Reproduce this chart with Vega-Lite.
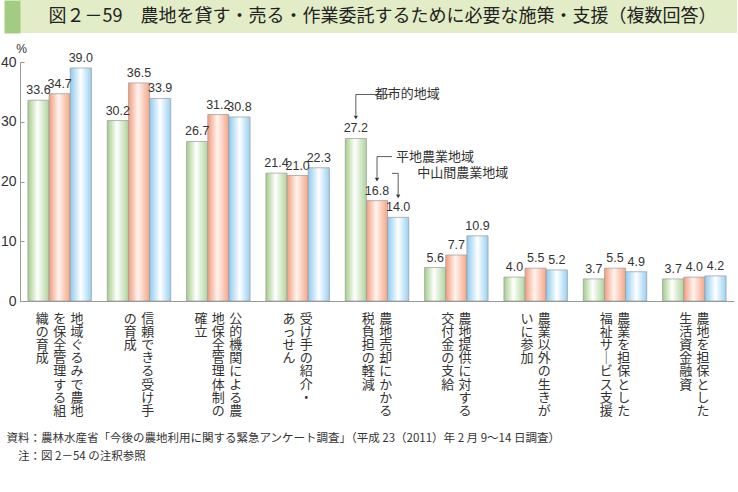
{
  "$schema": "https://vega.github.io/schema/vega-lite/v6.json",
  "padding": 0,
  "background": "white",
  "config": {"view": {"stroke": null}, "font": "Noto Sans CJK JP", "concat": {"spacing": 0}},
  "datasets": {
    "bars": [
      {"item": "地域ぐるみで農地を保全管理する組織の育成", "region": "都市的地域", "value": 33.6},
      {"item": "地域ぐるみで農地を保全管理する組織の育成", "region": "平地農業地域", "value": 34.7},
      {"item": "地域ぐるみで農地を保全管理する組織の育成", "region": "中山間農業地域", "value": 39.0},
      {"item": "信頼できる受け手の育成", "region": "都市的地域", "value": 30.2},
      {"item": "信頼できる受け手の育成", "region": "平地農業地域", "value": 36.5},
      {"item": "信頼できる受け手の育成", "region": "中山間農業地域", "value": 33.9},
      {"item": "公的機関による農地保全管理体制の確立", "region": "都市的地域", "value": 26.7},
      {"item": "公的機関による農地保全管理体制の確立", "region": "平地農業地域", "value": 31.2},
      {"item": "公的機関による農地保全管理体制の確立", "region": "中山間農業地域", "value": 30.8},
      {"item": "受け手の紹介・あっせん", "region": "都市的地域", "value": 21.4},
      {"item": "受け手の紹介・あっせん", "region": "平地農業地域", "value": 21.0},
      {"item": "受け手の紹介・あっせん", "region": "中山間農業地域", "value": 22.3},
      {"item": "農地売却にかかる税負担の軽減", "region": "都市的地域", "value": 27.2},
      {"item": "農地売却にかかる税負担の軽減", "region": "平地農業地域", "value": 16.8},
      {"item": "農地売却にかかる税負担の軽減", "region": "中山間農業地域", "value": 14.0},
      {"item": "農地提供に対する交付金の支給", "region": "都市的地域", "value": 5.6},
      {"item": "農地提供に対する交付金の支給", "region": "平地農業地域", "value": 7.7},
      {"item": "農地提供に対する交付金の支給", "region": "中山間農業地域", "value": 10.9},
      {"item": "農業以外の生きがいに参加", "region": "都市的地域", "value": 4.0},
      {"item": "農業以外の生きがいに参加", "region": "平地農業地域", "value": 5.5},
      {"item": "農業以外の生きがいに参加", "region": "中山間農業地域", "value": 5.2},
      {"item": "農業を担保とした福祉サービス支援", "region": "都市的地域", "value": 3.7},
      {"item": "農業を担保とした福祉サービス支援", "region": "平地農業地域", "value": 5.5},
      {"item": "農業を担保とした福祉サービス支援", "region": "中山間農業地域", "value": 4.9},
      {"item": "農地を担保とした生活資金融資", "region": "都市的地域", "value": 3.7},
      {"item": "農地を担保とした生活資金融資", "region": "平地農業地域", "value": 4.0},
      {"item": "農地を担保とした生活資金融資", "region": "中山間農業地域", "value": 4.2}
    ],
    "labels": [
      {"item": "地域ぐるみで農地を保全管理する組織の育成", "vlabel": "織\u2004を\u2004地\nの\u2004保\u2004域\n育\u2004全\u2004ぐ\n成\u2004管\u2004る\n\u200b\u3000\u2004理\u2004み\n\u200b\u3000\u2004す\u2004で\n\u200b\u3000\u2004る\u2004農\n\u200b\u3000\u2004組\u2004地"},
      {"item": "信頼できる受け手の育成", "vlabel": "の\u2004信\n育\u2004頼\n成\u2004で\n\u200b\u3000\u2004き\n\u200b\u3000\u2004る\n\u200b\u3000\u2004受\n\u200b\u3000\u2004け\n\u200b\u3000\u2004手"},
      {"item": "公的機関による農地保全管理体制の確立", "vlabel": "確\u2004地\u2004公\n立\u2004保\u2004的\n\u200b\u3000\u2004全\u2004機\n\u200b\u3000\u2004管\u2004関\n\u200b\u3000\u2004理\u2004に\n\u200b\u3000\u2004体\u2004よ\n\u200b\u3000\u2004制\u2004る\n\u200b\u3000\u2004の\u2004農"},
      {"item": "受け手の紹介・あっせん", "vlabel": "あ\u2004受\nっ\u2004け\nせ\u2004手\nん\u2004の\n\u200b\u3000\u2004紹\n\u200b\u3000\u2004介\n\u200b\u3000\u2004・"},
      {"item": "農地売却にかかる税負担の軽減", "vlabel": "税\u2004農\n負\u2004地\n担\u2004売\nの\u2004却\n軽\u2004に\n減\u2004か\n\u200b\u3000\u2004か\n\u200b\u3000\u2004る"},
      {"item": "農地提供に対する交付金の支給", "vlabel": "交\u2004農\n付\u2004地\n金\u2004提\nの\u2004供\n支\u2004に\n給\u2004対\n\u200b\u3000\u2004す\n\u200b\u3000\u2004る"},
      {"item": "農業以外の生きがいに参加", "vlabel": "い\u2004農\nに\u2004業\n参\u2004以\n加\u2004外\n\u200b\u3000\u2004の\n\u200b\u3000\u2004生\n\u200b\u3000\u2004き\n\u200b\u3000\u2004が"},
      {"item": "農業を担保とした福祉サービス支援", "vlabel": "福\u2004農\n祉\u2004業\nサ\u2004を\n｜\u2004担\nビ\u2004保\nス\u2004と\n支\u2004し\n援\u2004た"},
      {"item": "農地を担保とした生活資金融資", "vlabel": "生\u2004農\n活\u2004地\n資\u2004を\n金\u2004担\n融\u2004保\n資\u2004と\n\u200b\u3000\u2004し\n\u200b\u3000\u2004た"}
    ]
  },
  "columns": 1,
  "align": "none",
  "spacing": 9,
  "concat": [
    {
      "width": 717, "height": 33,
      "data": {"values": [{}]},
      "view": {"stroke": null, "fill": "#e2ecc6"},
      "mark": {"type": "text", "font": "Noto Sans CJK JP", "fontSize": 18, "color": "#222", "dx": 4, "baseline": "middle"},
      "encoding": {
        "text": {"value": "図２－59　農地を貸す・売る・作業委託するために必要な施策・支援（複数回答）"},
        "y": {
          "datum": 0.5, "type": "quantitative", "scale": {"domain": [0, 1]},
          "axis": {"labels": false, "ticks": false, "title": null, "grid": false,
            "domainColor": "#a3cc82", "domainWidth": 16, "offset": 8}
        }
      }
    },
    {
      "width": 714,
      "height": 239,
      "data": {"name": "bars"},
      "title": {
        "text": ["資料：農林水産省「今後の農地利用に関する緊急アンケート調査」（平成 23（2011）年 2 月 9～14 日調査）", "\u200b　注：図 2－54 の注釈参照"],
        "orient": "bottom", "anchor": "start", "frame": "bounds", "dx": 6, "offset": 15,
        "font": "Noto Sans CJK JP", "fontSize": 11.5, "fontWeight": "normal", "color": "#333", "lineHeight": 18
      },
      "layer": [
        {
          "transform": [{"filter": "datum.region === '都市的地域'"}],
          "mark": {"type": "bar", "stroke": "#999", "strokeWidth": 0.7,
            "fill": {"gradient": "linear", "x1": 0, "x2": 1, "y1": 0, "y2": 0, "stops": [{"offset": 0, "color": "#a3cd89"}, {"offset": 0.45, "color": "#ffffff"}, {"offset": 1, "color": "#add49a"}]}},
          "encoding": {
            "x": {
              "field": "item", "type": "nominal",
              "scale": {
                "domain": ["地域ぐるみで農地を保全管理する組織の育成", "信頼できる受け手の育成", "公的機関による農地保全管理体制の確立", "受け手の紹介・あっせん", "農地売却にかかる税負担の軽減", "農地提供に対する交付金の支給", "農業以外の生きがいに参加", "農業を担保とした福祉サービス支援", "農地を担保とした生活資金融資"],
                "paddingInner": 0.2, "paddingOuter": 0.1
              },
              "axis": {"labels": false, "ticks": false, "domainColor": "#999", "title": null}
            },
            "xOffset": {"field": "region", "scale": {"domain": ["都市的地域", "平地農業地域", "中山間農業地域"], "paddingInner": 0, "paddingOuter": 0}},
            "y": {
              "field": "value", "type": "quantitative",
              "scale": {"domain": [0, 40]},
              "axis": {
                "values": [0, 10, 20, 30, 40], "grid": false,
                "domainColor": "#999", "tickColor": "#999", "tickSize": -4,
                "labelFont": "Liberation Sans", "labelFontSize": 14, "labelColor": "#333", "labelPadding": 8,
                "title": "%", "titleAngle": 0, "titleX": 1, "titleY": -14, "titleAlign": "center", "titleBaseline": "middle",
                "titleFont": "Liberation Sans", "titleFontSize": 12, "titleFontWeight": "normal", "titleColor": "#333"
              }
            }
          }
        },
        {
          "transform": [{"filter": "datum.region === '平地農業地域'"}],
          "mark": {"type": "bar", "stroke": "#999", "strokeWidth": 0.7,
            "fill": {"gradient": "linear", "x1": 0, "x2": 1, "y1": 0, "y2": 0, "stops": [{"offset": 0, "color": "#f29c7c"}, {"offset": 0.45, "color": "#fff4ef"}, {"offset": 1, "color": "#f4a586"}]}},
          "encoding": {
            "x": {"field": "item", "type": "nominal"},
            "xOffset": {"field": "region"},
            "y": {"field": "value", "type": "quantitative"}
          }
        },
        {
          "transform": [{"filter": "datum.region === '中山間農業地域'"}],
          "mark": {"type": "bar", "stroke": "#999", "strokeWidth": 0.7,
            "fill": {"gradient": "linear", "x1": 0, "x2": 1, "y1": 0, "y2": 0, "stops": [{"offset": 0, "color": "#8ccbf1"}, {"offset": 0.5, "color": "#ffffff"}, {"offset": 1, "color": "#97d1f3"}]}},
          "encoding": {
            "x": {"field": "item", "type": "nominal"},
            "xOffset": {"field": "region"},
            "y": {"field": "value", "type": "quantitative"}
          }
        },
        {
          "mark": {"type": "text", "baseline": "bottom", "dy": -3, "font": "Liberation Sans", "fontSize": 12.5, "color": "#333"},
          "encoding": {
            "x": {"field": "item", "type": "nominal"},
            "xOffset": {"field": "region"},
            "y": {"field": "value", "type": "quantitative"},
            "text": {"field": "value", "type": "quantitative", "format": ".1f"}
          }
        },
        {
          "transform": [{"filter": "datum.item === '農地売却にかかる税負担の軽減'"}],
          "mark": {"type": "rule", "color": "#333", "strokeWidth": 0.8, "yOffset": -44, "y2Offset": -23},
          "encoding": {
            "x": {"field": "item", "type": "nominal"},
            "xOffset": {"field": "region"},
            "y": {"field": "value", "type": "quantitative"},
            "y2": {"field": "value"}
          }
        },
        {
          "transform": [{"filter": "datum.item === '農地売却にかかる税負担の軽減'"}],
          "mark": {"type": "rule", "color": "#333", "strokeWidth": 0.8, "yOffset": -44, "x2Offset": 15},
          "encoding": {
            "x": {"field": "item", "type": "nominal"},
            "x2": {"field": "item"},
            "xOffset": {"field": "region"},
            "y": {"field": "value", "type": "quantitative"}
          }
        },
        {
          "transform": [{"filter": "datum.item === '農地売却にかかる税負担の軽減'"}],
          "mark": {"type": "point", "shape": "triangle-down", "filled": true, "size": 18, "color": "#333", "opacity": 1, "yOffset": -21},
          "encoding": {
            "x": {"field": "item", "type": "nominal"},
            "xOffset": {"field": "region"},
            "y": {"field": "value", "type": "quantitative"}
          }
        },
        {
          "transform": [{"filter": "datum.item === '農地売却にかかる税負担の軽減'"}],
          "mark": {"type": "text", "align": "left", "baseline": "middle", "dx": 19, "dy": -44, "font": "Noto Sans CJK JP", "fontSize": 13, "color": "#333"},
          "encoding": {
            "x": {"field": "item", "type": "nominal"},
            "xOffset": {"field": "region"},
            "y": {"field": "value", "type": "quantitative"},
            "text": {"field": "region"}
          }
        },
        {
          "data": {"name": "labels"},
          "mark": {"type": "text", "align": "center", "baseline": "top", "dy": 12, "lineBreak": "\n", "lineHeight": 13.1, "font": "Noto Sans CJK JP", "fontSize": 13, "color": "#333"},
          "encoding": {
            "x": {"field": "item", "type": "nominal"},
            "y": {"datum": 0, "type": "quantitative"},
            "text": {"field": "vlabel"}
          }
        }
      ]
    }
  ]
}
